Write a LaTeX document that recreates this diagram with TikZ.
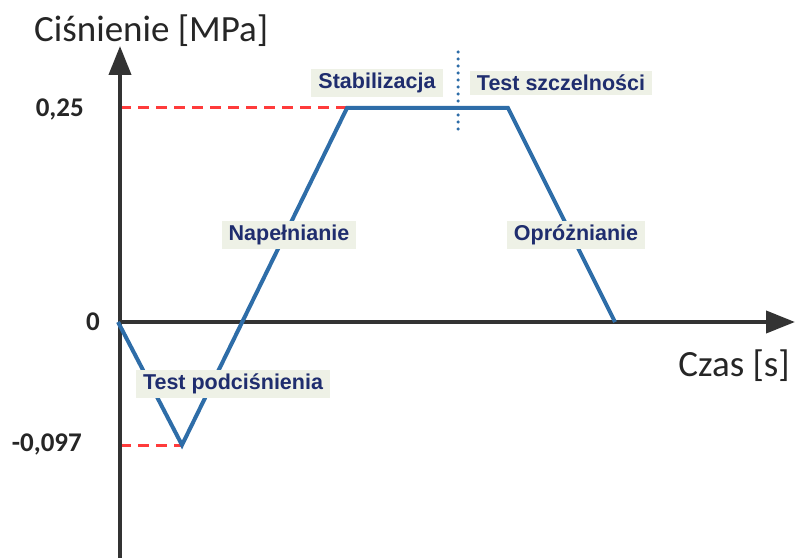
\documentclass[tikz,border=0pt]{standalone}
\usepackage{fontspec}
\setmainfont{Carlito}
\newfontfamily\labfont{Liberation Sans}
\usetikzlibrary{arrows.meta}
\definecolor{curvec}{HTML}{2E6DA8}
\definecolor{axisc}{HTML}{333333}
\definecolor{redd}{HTML}{FF3B3B}
\definecolor{navy}{HTML}{1F2D6E}
\definecolor{boxfill}{HTML}{EEF1E6}
\tikzset{
  axisline/.style={draw=axisc, line width=4bp, -{Triangle[length=29bp,width=22bp]}},
  curveline/.style={draw=curvec, line width=4bp, line join=miter},
  refline/.style={draw=redd, line width=3bp, dash pattern=on 11bp off 7bp},
  phase/.style={fill=boxfill, text=navy, font=\labfont\bfseries\fontsize{21.5bp}{25bp}\selectfont, inner xsep=7bp, inner ysep=4bp},
  ticklab/.style={font=\bfseries\fontsize{27bp}{30bp}\selectfont, text=black!85, anchor=east, inner sep=0pt},
  axtitle/.style={font=\fontsize{37bp}{42bp}\selectfont, text=black!85, inner sep=0pt},
}
\begin{document}
\begin{tikzpicture}[x=1bp,y=-1bp]
\useasboundingbox (0,0) rectangle (800,558);
\coordinate (ybot) at (120,560);
\coordinate (ytop) at (120,46);
\coordinate (xstart) at (118,322);
\coordinate (xend) at (795,322);
\coordinate (p0) at (118,322);
\coordinate (p1) at (182,445);
\coordinate (p2) at (347,108);
\coordinate (p3) at (508,108);
\coordinate (p4) at (615,322);
\coordinate (r25) at (120,108);
\coordinate (rm) at (120,445);
\coordinate (d1) at (458,52);
\coordinate (d2) at (458,133);
% reference lines
\draw[refline] (r25) -- (p2);
\draw[refline] (rm) -- (p1);
% axes
\draw[axisline] (ybot) -- (ytop);
\draw[axisline] (xstart) -- (xend);
% curve
\draw[curveline] (p0) -- (p1) -- (p2) -- (p3) -- (p4);
% dotted divider
\draw[draw=curvec, line width=3.5bp, line cap=round, dash pattern=on 0bp off 7bp] (d1) -- (d2);
% phase labels
\node[phase] (stab) at (377,83) {Stabilizacja};
\node[phase] (szcz) at (561,83) {Test szczelności};
\node[phase] (nap) at (289,235) {Napełnianie};
\node[phase] (opr) at (576,235) {Opróżnianie};
\node[phase] (pod) at (233,384) {Test podciśnienia};
% tick labels
\node[ticklab] (t25) at (84,109) {0,25};
\node[ticklab] (t0) at (100,322) {0};
\node[ticklab] (tm) at (82,444) {-0,097};
% axis titles
\node[axtitle, anchor=west] (ytitle) at (34,31) {Ciśnienie [MPa]};
\node[axtitle, anchor=east] (xtitle) at (790,366) {Czas [s]};
\end{tikzpicture}
\end{document}
